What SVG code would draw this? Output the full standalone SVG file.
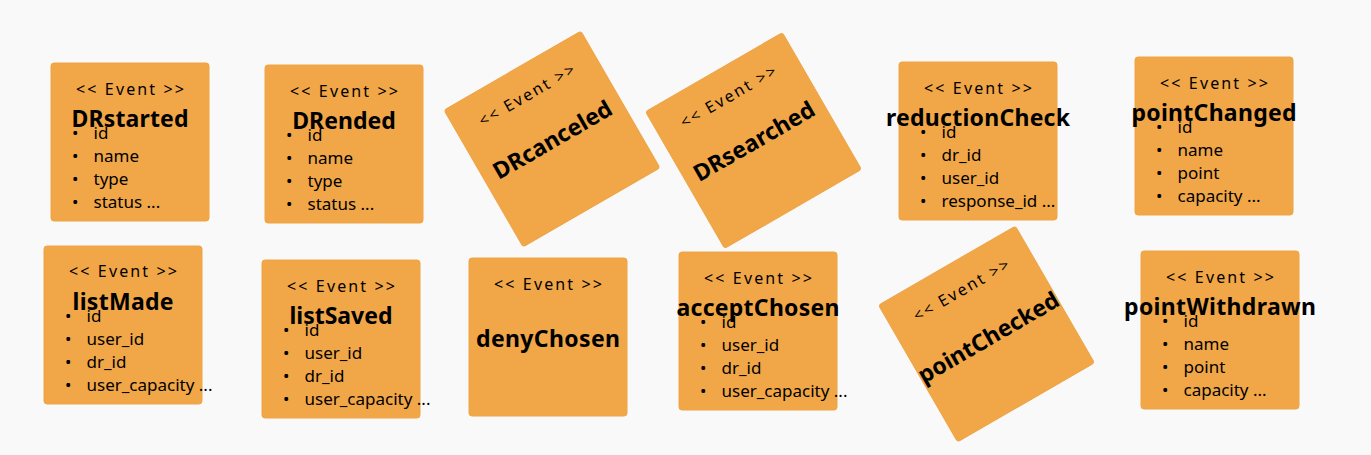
<svg xmlns="http://www.w3.org/2000/svg" width="1371" height="455" viewBox="0 0 1371 455">
<style>
.bg{fill:#f9f9f9}
.card{fill:#f1a747;stroke:#eea445;stroke-width:1}
text{font-family:"Noto Sans","Open Sans","DejaVu Sans",sans-serif;fill:#000}
.st{font-size:16px;text-anchor:middle}
.tt{font-size:23px;font-weight:bold;text-anchor:middle}
.li{font-size:17px}
</style>
<rect class="bg" x="0" y="0" width="1371" height="455"/>
<g id="connectors"/>

<g id="DRstarted" transform="translate(51,63)">
<rect class="card" width="158" height="158" rx="3"/>
<text class="st" x="79" y="32" textLength="108">&lt;&lt; Event &gt;&gt;</text>
<text class="tt" x="79" y="64" textLength="117">DRstarted</text>
<text class="li" x="21" y="75.5">•</text><text class="li" x="42.5" y="75.5">id</text>
<text class="li" x="21" y="98.5">•</text><text class="li" x="42.5" y="98.5">name</text>
<text class="li" x="21" y="121.5">•</text><text class="li" x="42.5" y="121.5">type</text>
<text class="li" x="21" y="144.5">•</text><text class="li" x="42.5" y="144.5">status ...</text>
</g>

<g id="DRended" transform="translate(265,65)">
<rect class="card" width="158" height="158" rx="3"/>
<text class="st" x="79" y="32" textLength="108">&lt;&lt; Event &gt;&gt;</text>
<text class="tt" x="79" y="64">DRended</text>
<text class="li" x="21" y="75.5">•</text><text class="li" x="42.5" y="75.5">id</text>
<text class="li" x="21" y="98.5">•</text><text class="li" x="42.5" y="98.5">name</text>
<text class="li" x="21" y="121.5">•</text><text class="li" x="42.5" y="121.5">type</text>
<text class="li" x="21" y="144.5">•</text><text class="li" x="42.5" y="144.5">status ...</text>
</g>

<g id="DRcanceled" transform="translate(552,139) rotate(-30)">
<rect class="card" x="-79" y="-79" width="158" height="158" rx="3"/>
<text class="st" x="0" y="-45" textLength="108">&lt;&lt; Event &gt;&gt;</text>
<text class="tt" x="0" y="9">DRcanceled</text>
</g>

<g id="DRsearched" transform="translate(753.5,140.5) rotate(-30)">
<rect class="card" x="-79" y="-79" width="158" height="158" rx="3"/>
<text class="st" x="0" y="-45" textLength="108">&lt;&lt; Event &gt;&gt;</text>
<text class="tt" x="0" y="9">DRsearched</text>
</g>

<g id="reductionCheck" transform="translate(899,62)">
<rect class="card" width="158" height="158" rx="3"/>
<text class="st" x="79" y="31.5" textLength="108">&lt;&lt; Event &gt;&gt;</text>
<text class="tt" x="79" y="64" textLength="184">reductionCheck</text>
<text class="li" x="21" y="75.5">•</text><text class="li" x="42.5" y="75.5">id</text>
<text class="li" x="21" y="98.5">•</text><text class="li" x="42.5" y="98.5">dr_id</text>
<text class="li" x="21" y="121.5">•</text><text class="li" x="42.5" y="121.5">user_id</text>
<text class="li" x="21" y="144.5">•</text><text class="li" x="42.5" y="144.5">response_id ...</text>
</g>

<g id="pointChanged" transform="translate(1135,57)">
<rect class="card" width="158" height="158" rx="3"/>
<text class="st" x="79" y="31.5" textLength="108">&lt;&lt; Event &gt;&gt;</text>
<text class="tt" x="79" y="64" textLength="165">pointChanged</text>
<text class="li" x="21" y="75.5">•</text><text class="li" x="42.5" y="75.5">id</text>
<text class="li" x="21" y="98.5">•</text><text class="li" x="42.5" y="98.5">name</text>
<text class="li" x="21" y="121.5">•</text><text class="li" x="42.5" y="121.5">point</text>
<text class="li" x="21" y="144.5">•</text><text class="li" x="42.5" y="144.5">capacity ...</text>
</g>

<g id="listMade" transform="translate(44,246)">
<rect class="card" width="158" height="158" rx="3"/>
<text class="st" x="79" y="31" textLength="108">&lt;&lt; Event &gt;&gt;</text>
<text class="tt" x="79" y="64" textLength="101">listMade</text>
<text class="li" x="21" y="75.5">•</text><text class="li" x="42.5" y="75.5">id</text>
<text class="li" x="21" y="98.5">•</text><text class="li" x="42.5" y="98.5">user_id</text>
<text class="li" x="21" y="121.5">•</text><text class="li" x="42.5" y="121.5">dr_id</text>
<text class="li" x="21" y="144.5">•</text><text class="li" x="42.5" y="144.5">user_capacity ...</text>
</g>

<g id="listSaved" transform="translate(262,260)">
<rect class="card" width="158" height="158" rx="3"/>
<text class="st" x="79" y="31.5" textLength="108">&lt;&lt; Event &gt;&gt;</text>
<text class="tt" x="79" y="64" textLength="103">listSaved</text>
<text class="li" x="21" y="75.5">•</text><text class="li" x="42.5" y="75.5">id</text>
<text class="li" x="21" y="98.5">•</text><text class="li" x="42.5" y="98.5">user_id</text>
<text class="li" x="21" y="121.5">•</text><text class="li" x="42.5" y="121.5">dr_id</text>
<text class="li" x="21" y="144.5">•</text><text class="li" x="42.5" y="144.5">user_capacity ...</text>
</g>

<g id="denyChosen" transform="translate(469,258)">
<rect class="card" width="158" height="158" rx="3"/>
<text class="st" x="79" y="32" textLength="108">&lt;&lt; Event &gt;&gt;</text>
<text class="tt" x="79" y="89" textLength="144">denyChosen</text>
</g>

<g id="acceptChosen" transform="translate(679,252)">
<rect class="card" width="158" height="158" rx="3"/>
<text class="st" x="79" y="31.5" textLength="108">&lt;&lt; Event &gt;&gt;</text>
<text class="tt" x="79" y="64" textLength="163">acceptChosen</text>
<text class="li" x="21" y="75.5">•</text><text class="li" x="42.5" y="75.5">id</text>
<text class="li" x="21" y="98.5">•</text><text class="li" x="42.5" y="98.5">user_id</text>
<text class="li" x="21" y="121.5">•</text><text class="li" x="42.5" y="121.5">dr_id</text>
<text class="li" x="21" y="144.5">•</text><text class="li" x="42.5" y="144.5">user_capacity ...</text>
</g>

<g id="pointChecked" transform="translate(986.5,334) rotate(-30)">
<rect class="card" x="-79" y="-79" width="158" height="158" rx="3"/>
<text class="st" x="0" y="-45" textLength="108">&lt;&lt; Event &gt;&gt;</text>
<text class="tt" x="0" y="12">pointChecked</text>
</g>

<g id="pointWithdrawn" transform="translate(1141,251)">
<rect class="card" width="158" height="158" rx="3"/>
<text class="st" x="79" y="31.5" textLength="108">&lt;&lt; Event &gt;&gt;</text>
<text class="tt" x="79" y="64" textLength="192">pointWithdrawn</text>
<text class="li" x="21" y="75.5">•</text><text class="li" x="42.5" y="75.5">id</text>
<text class="li" x="21" y="98.5">•</text><text class="li" x="42.5" y="98.5">name</text>
<text class="li" x="21" y="121.5">•</text><text class="li" x="42.5" y="121.5">point</text>
<text class="li" x="21" y="144.5">•</text><text class="li" x="42.5" y="144.5">capacity ...</text>
</g>
</svg>
